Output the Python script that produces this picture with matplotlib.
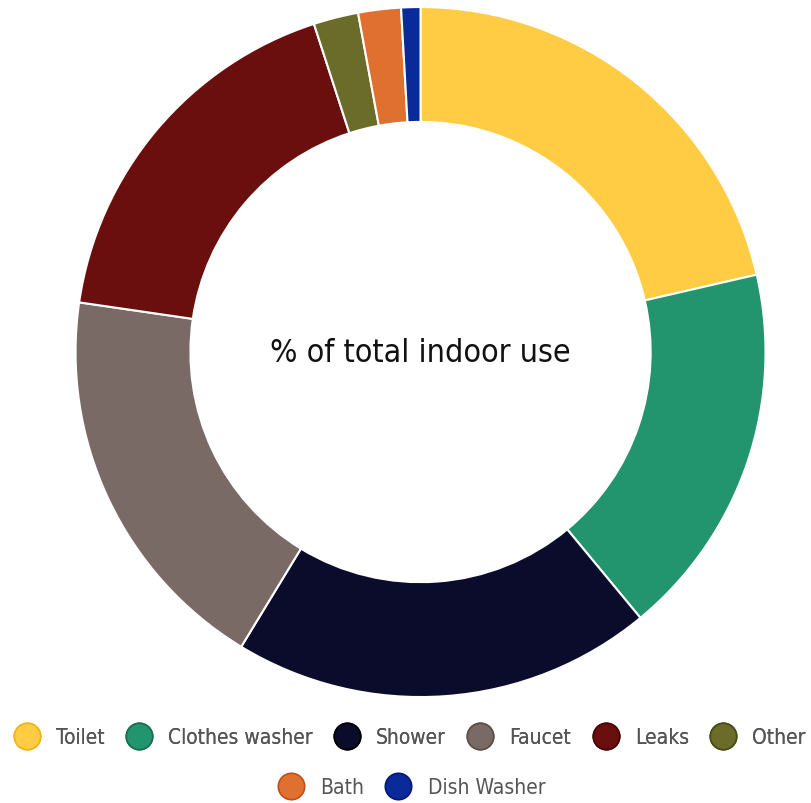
"""Donut chart: share of total indoor water use"""
import matplotlib.pyplot as plt
from matplotlib.lines import Line2D
from matplotlib import font_manager

categories = ['Toilet', 'Clothes washer', 'Shower', 'Faucet', 'Leaks', 'Other', 'Bath', 'Dish Washer']
shares = [21.4, 17.6, 19.7, 18.6, 17.7, 2.1, 2.0, 0.9]
colors = ['#FFCC44', '#22946E', '#0B0B2B', '#7A6A66', '#6B0E0E', '#6B6B2A', '#E07030', '#0A2A9A']
edge_colors = ['#F2B418', '#17704F', '#000000', '#5E4F4B', '#480505', '#4A4A15', '#C04E15', '#05167A']
center_label = '% of total indoor use'

# the original uses a condensed sans; DejaVu Sans Condensed is the closest we have
narrow_file = None
for f in font_manager.fontManager.ttflist:
    if f.style != 'normal' or f.weight not in (400, 'normal', 'regular', 'book'):
        continue
    if 'Narrow' in f.name or 'Condensed' in f.name or f.stretch in ('condensed', 'semi-condensed'):
        narrow_file = f.fname
        break

def fp(size):
    if narrow_file:
        return font_manager.FontProperties(fname=narrow_file, size=size)
    return font_manager.FontProperties(family='DejaVu Sans', size=size * 0.88)

fig = plt.figure(figsize=(8.12, 8.04), dpi=100, facecolor='white')
ax = fig.add_axes([0.093, 0.1318, 0.8498, 0.8582])
ax.set_aspect('equal')

wedges, _ = ax.pie(shares, colors=colors, startangle=90, counterclock=False,
                   radius=1.0,
                   wedgeprops=dict(width=0.333, edgecolor='white', linewidth=1.5))
ax.set_xlim(-1, 1)
ax.set_ylim(-1, 1)
ax.axis('off')

ax.text(0, 0, center_label, ha='center', va='center', fontproperties=fp(23), color='#111111')

# legend in two centred rows
handles = [Line2D([], [], marker='o', linestyle='none', markersize=19,
                  markerfacecolor=c, markeredgecolor=e, markeredgewidth=1.2, label=n)
           for n, c, e in zip(categories, colors, edge_colors)]
common = dict(frameon=False, prop=fp(15), labelcolor='#555555', handletextpad=0.8,
              columnspacing=1.05, handlelength=1.2, borderaxespad=0)
leg1 = fig.legend(handles=handles[:6], ncol=6, loc='center', bbox_to_anchor=(0.505, 1 - 738 / 804), **common)
fig.add_artist(leg1)
fig.legend(handles=handles[6:], ncol=2, loc='center', bbox_to_anchor=(0.507, 1 - 788 / 804), **common)

fig.savefig('out.png', dpi=100, facecolor='white')
